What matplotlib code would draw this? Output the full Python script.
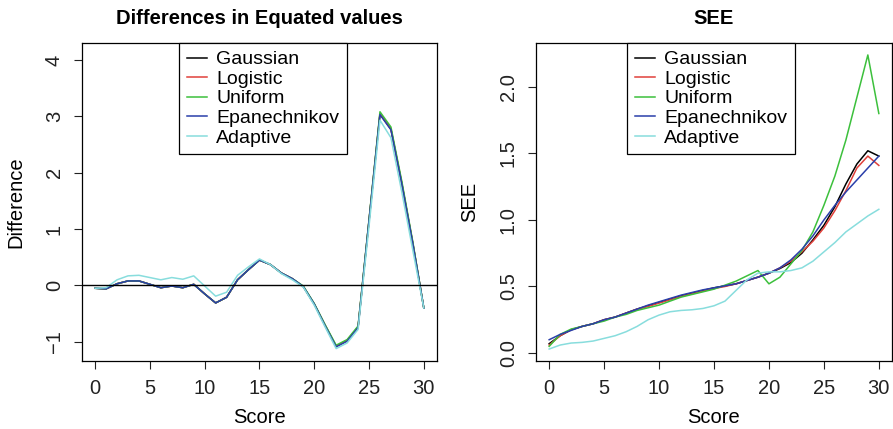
import matplotlib.pyplot as plt

plt.rcParams["font.family"] = ["Liberation Sans", "DejaVu Sans"]

score = list(range(31))
kernels = ["Gaussian", "Logistic", "Uniform", "Epanechnikov", "Adaptive"]
colors = ["black", "#E0403A", "#3CC03C", "#2A3FAA", "#88DDDD"]

# differences in equated values
gauss_diff = [-0.05, -0.06, 0.03, 0.08, 0.08, 0.02, -0.04, -0.01, -0.04, 0.02, -0.15,
              -0.31, -0.21, 0.10, 0.28, 0.45, 0.37, 0.22, 0.12, -0.02, -0.33,
              -0.71, -1.08, -0.98, -0.74, 1.15, 3.04, 2.77, 1.80, 0.74, -0.40]
logis_diff = [-0.05, -0.06, 0.03, 0.08, 0.08, 0.02, -0.04, -0.01, -0.04, 0.02, -0.15,
              -0.31, -0.21, 0.10, 0.28, 0.45, 0.37, 0.22, 0.12, -0.02, -0.33,
              -0.71, -1.08, -0.97, -0.74, 1.15, 3.05, 2.78, 1.81, 0.75, -0.40]
unif_diff = [-0.05, -0.06, 0.03, 0.08, 0.08, 0.02, -0.04, -0.01, -0.04, 0.02, -0.15,
             -0.31, -0.21, 0.10, 0.28, 0.45, 0.37, 0.22, 0.12, -0.01, -0.32,
             -0.70, -1.06, -0.96, -0.72, 1.17, 3.08, 2.81, 1.84, 0.77, -0.40]
epan_diff = [-0.05, -0.06, 0.03, 0.08, 0.08, 0.02, -0.04, -0.01, -0.04, 0.02, -0.15,
             -0.31, -0.21, 0.10, 0.28, 0.45, 0.37, 0.22, 0.12, -0.02, -0.33,
             -0.72, -1.09, -0.99, -0.75, 1.14, 3.03, 2.76, 1.79, 0.74, -0.40]
adapt_diff = [-0.05, -0.04, 0.10, 0.17, 0.18, 0.14, 0.10, 0.14, 0.11, 0.17, -0.01,
              -0.19, -0.12, 0.18, 0.33, 0.47, 0.37, 0.21, 0.10, -0.03, -0.35,
              -0.74, -1.12, -1.02, -0.78, 1.05, 2.93, 2.62, 1.65, 0.62, -0.40]

# standard errors of equating
gauss_see = [0.07, 0.13, 0.175, 0.20, 0.22, 0.25, 0.27, 0.30, 0.33, 0.355, 0.38,
             0.405, 0.43, 0.45, 0.47, 0.49, 0.505, 0.52, 0.545, 0.57, 0.60,
             0.635, 0.68, 0.75, 0.85, 0.96, 1.10, 1.27, 1.42, 1.52, 1.48]
logis_see = [0.06, 0.13, 0.175, 0.20, 0.22, 0.25, 0.27, 0.30, 0.33, 0.35, 0.375,
             0.40, 0.425, 0.445, 0.465, 0.485, 0.50, 0.52, 0.545, 0.57, 0.60,
             0.64, 0.69, 0.76, 0.84, 0.94, 1.07, 1.22, 1.39, 1.48, 1.41]
unif_see = [0.05, 0.14, 0.18, 0.20, 0.22, 0.24, 0.27, 0.29, 0.32, 0.34, 0.36,
            0.39, 0.42, 0.44, 0.46, 0.48, 0.51, 0.54, 0.58, 0.62, 0.52,
            0.57, 0.67, 0.77, 0.91, 1.11, 1.33, 1.60, 1.92, 2.24, 1.80]
epan_see = [0.10, 0.14, 0.17, 0.20, 0.22, 0.25, 0.27, 0.30, 0.33, 0.36, 0.385,
            0.41, 0.435, 0.455, 0.475, 0.49, 0.505, 0.52, 0.545, 0.57, 0.60,
            0.64, 0.70, 0.78, 0.88, 1.00, 1.11, 1.21, 1.30, 1.39, 1.48]
adapt_see = [0.03, 0.06, 0.075, 0.08, 0.09, 0.11, 0.13, 0.16, 0.20, 0.25, 0.285,
             0.31, 0.32, 0.325, 0.335, 0.355, 0.39, 0.47, 0.55, 0.60, 0.61,
             0.61, 0.62, 0.64, 0.69, 0.76, 0.83, 0.91, 0.97, 1.03, 1.08]

diffs = [gauss_diff, logis_diff, unif_diff, epan_diff, adapt_diff]
sees = [gauss_see, logis_see, unif_see, epan_see, adapt_see]

fs = 14.5
fig = plt.figure(figsize=(8.93, 4.29), dpi=100)
ax1 = fig.add_axes([0.0918, 0.1585, 0.3975, 0.7413])
ax2 = fig.add_axes([0.6002, 0.1585, 0.3987, 0.7413])


def style(ax, title, ylabel, yticks, ylabels, ylim, legend_x):
    ax.set_xlim(-1.2, 31.2)
    ax.set_ylim(*ylim)
    ax.set_xticks([0, 5, 10, 15, 20, 25, 30])
    ax.set_yticks(yticks)
    ax.set_yticklabels(ylabels, rotation=90, va="center")
    ax.tick_params(direction="out", length=6, width=0.8, labelsize=fs, pad=7,
                   colors="#222222")
    for s in ax.spines.values():
        s.set_linewidth(0.9)
    ax.set_title(title, fontsize=fs, fontweight="bold", pad=14)
    ax.set_xlabel("Score", fontsize=fs, labelpad=7)
    ax.set_ylabel(ylabel, fontsize=fs, labelpad=14)
    leg = ax.legend(loc="upper center", bbox_to_anchor=(legend_x, 1.0),
                    borderaxespad=0, fontsize=14, frameon=True, fancybox=False,
                    framealpha=1, edgecolor="black", handlelength=1.05,
                    handletextpad=0.45, labelspacing=0.1, borderpad=0.4)
    leg.get_frame().set_linewidth(0.9)


for name, c, d in zip(kernels, colors, diffs):
    ax1.plot(score, d, color=c, lw=1.1, label=name)
ax1.axhline(0, color="black", lw=1.0)
style(ax1, "Differences in Equated values", "Difference",
      [-1, 0, 1, 2, 3, 4], ["\u22121", "0", "1", "2", "3", "4"],
      (-1.34, 4.30), 0.51)

for name, c, s in zip(kernels, colors, sees):
    ax2.plot(score, s, color=c, lw=1.1, label=name)
style(ax2, "SEE", "SEE",
      [0.0, 0.5, 1.0, 1.5, 2.0], ["0.0", "0.5", "1.0", "1.5", "2.0"],
      (-0.06, 2.33), 0.492)

fig.savefig("out.png", dpi=100)
